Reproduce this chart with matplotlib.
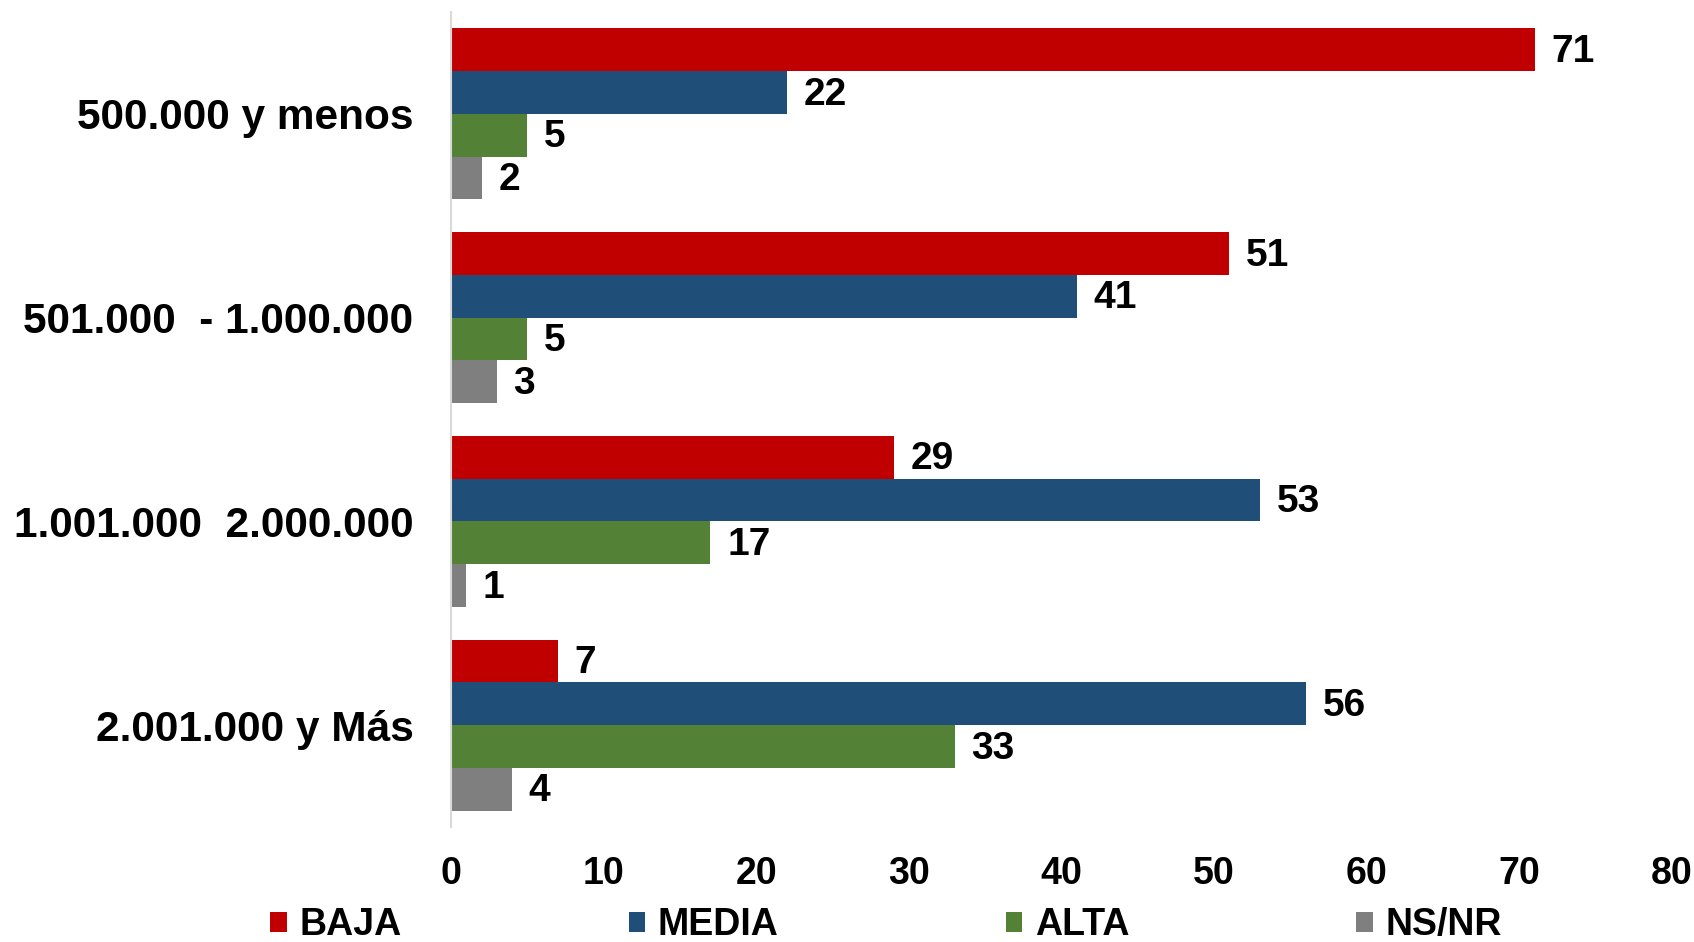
import matplotlib
matplotlib.use("Agg")
import matplotlib.pyplot as plt
from matplotlib.patches import Patch
import numpy as np

plt.rcParams['font.family'] = ['Liberation Sans', 'DejaVu Sans']
plt.rcParams['font.weight'] = 'bold'

categories = ["500.000 y menos", "501.000  - 1.000.000", "1.001.000  2.000.000", "2.001.000 y Más"]
series_names = ["BAJA", "MEDIA", "ALTA", "NS/NR"]
baja = [71, 51, 29, 7]
media = [22, 41, 53, 56]
alta = [5, 5, 17, 33]
nsnr = [2, 3, 1, 4]
series = [baja, media, alta, nsnr]
colors = ["#C00000", "#1F4E79", "#538135", "#7F7F7F"]
xticks = [0, 10, 20, 30, 40, 50, 60, 70, 80]

fig = plt.figure(figsize=(16.94, 9.42), dpi=100)
ax = fig.add_axes([451/1694, 1-827/942, (1672-451)/1694, (827-12)/942])

y = np.arange(len(categories))
h = 0.21
offsets = [-1.5*h, -0.5*h, 0.5*h, 1.5*h]
for vals, off, col, name in zip(series, offsets, colors, series_names):
    bars = ax.barh(y + off, vals, height=h, color=col, label=name, linewidth=0)
    for b, v in zip(bars, vals):
        ax.annotate(str(v), (b.get_width(), b.get_y() + b.get_height()/2),
                    xytext=(12, -1.5), textcoords='offset points',
                    va='center', ha='left', fontsize=28, fontweight='bold')

ax.set_xlim(0, 80)
ax.set_ylim(len(categories)-0.5, -0.5)
ax.set_xticks(xticks)
ax.set_xticklabels([str(t) for t in xticks])
ax.set_yticks(y)
ax.set_yticklabels(categories)
ax.tick_params(axis='x', length=0, pad=21, labelsize=27)
ax.tick_params(axis='y', length=0, pad=27, labelsize=30.5)
for lab in ax.get_xticklabels() + ax.get_yticklabels():
    lab.set_fontweight('bold')
for s in ['top', 'right', 'bottom']:
    ax.spines[s].set_visible(False)
ax.spines['left'].set_color('#D9D9D9')
ax.spines['left'].set_linewidth(1.5)

handles = [Patch(facecolor=c, label=n) for c, n in zip(colors, series_names)]
leg = fig.legend(handles=handles, loc='center', bbox_to_anchor=(0.523, 0.018),
                 bbox_transform=fig.transFigure, ncol=4,
                 frameon=False, fontsize=27, handlelength=0.45, handleheight=0.45,
                 handletextpad=0.33, columnspacing=6.05, borderpad=0, borderaxespad=0)
for t in leg.get_texts():
    t.set_fontweight('bold')

fig.savefig("out.png", dpi=100)
